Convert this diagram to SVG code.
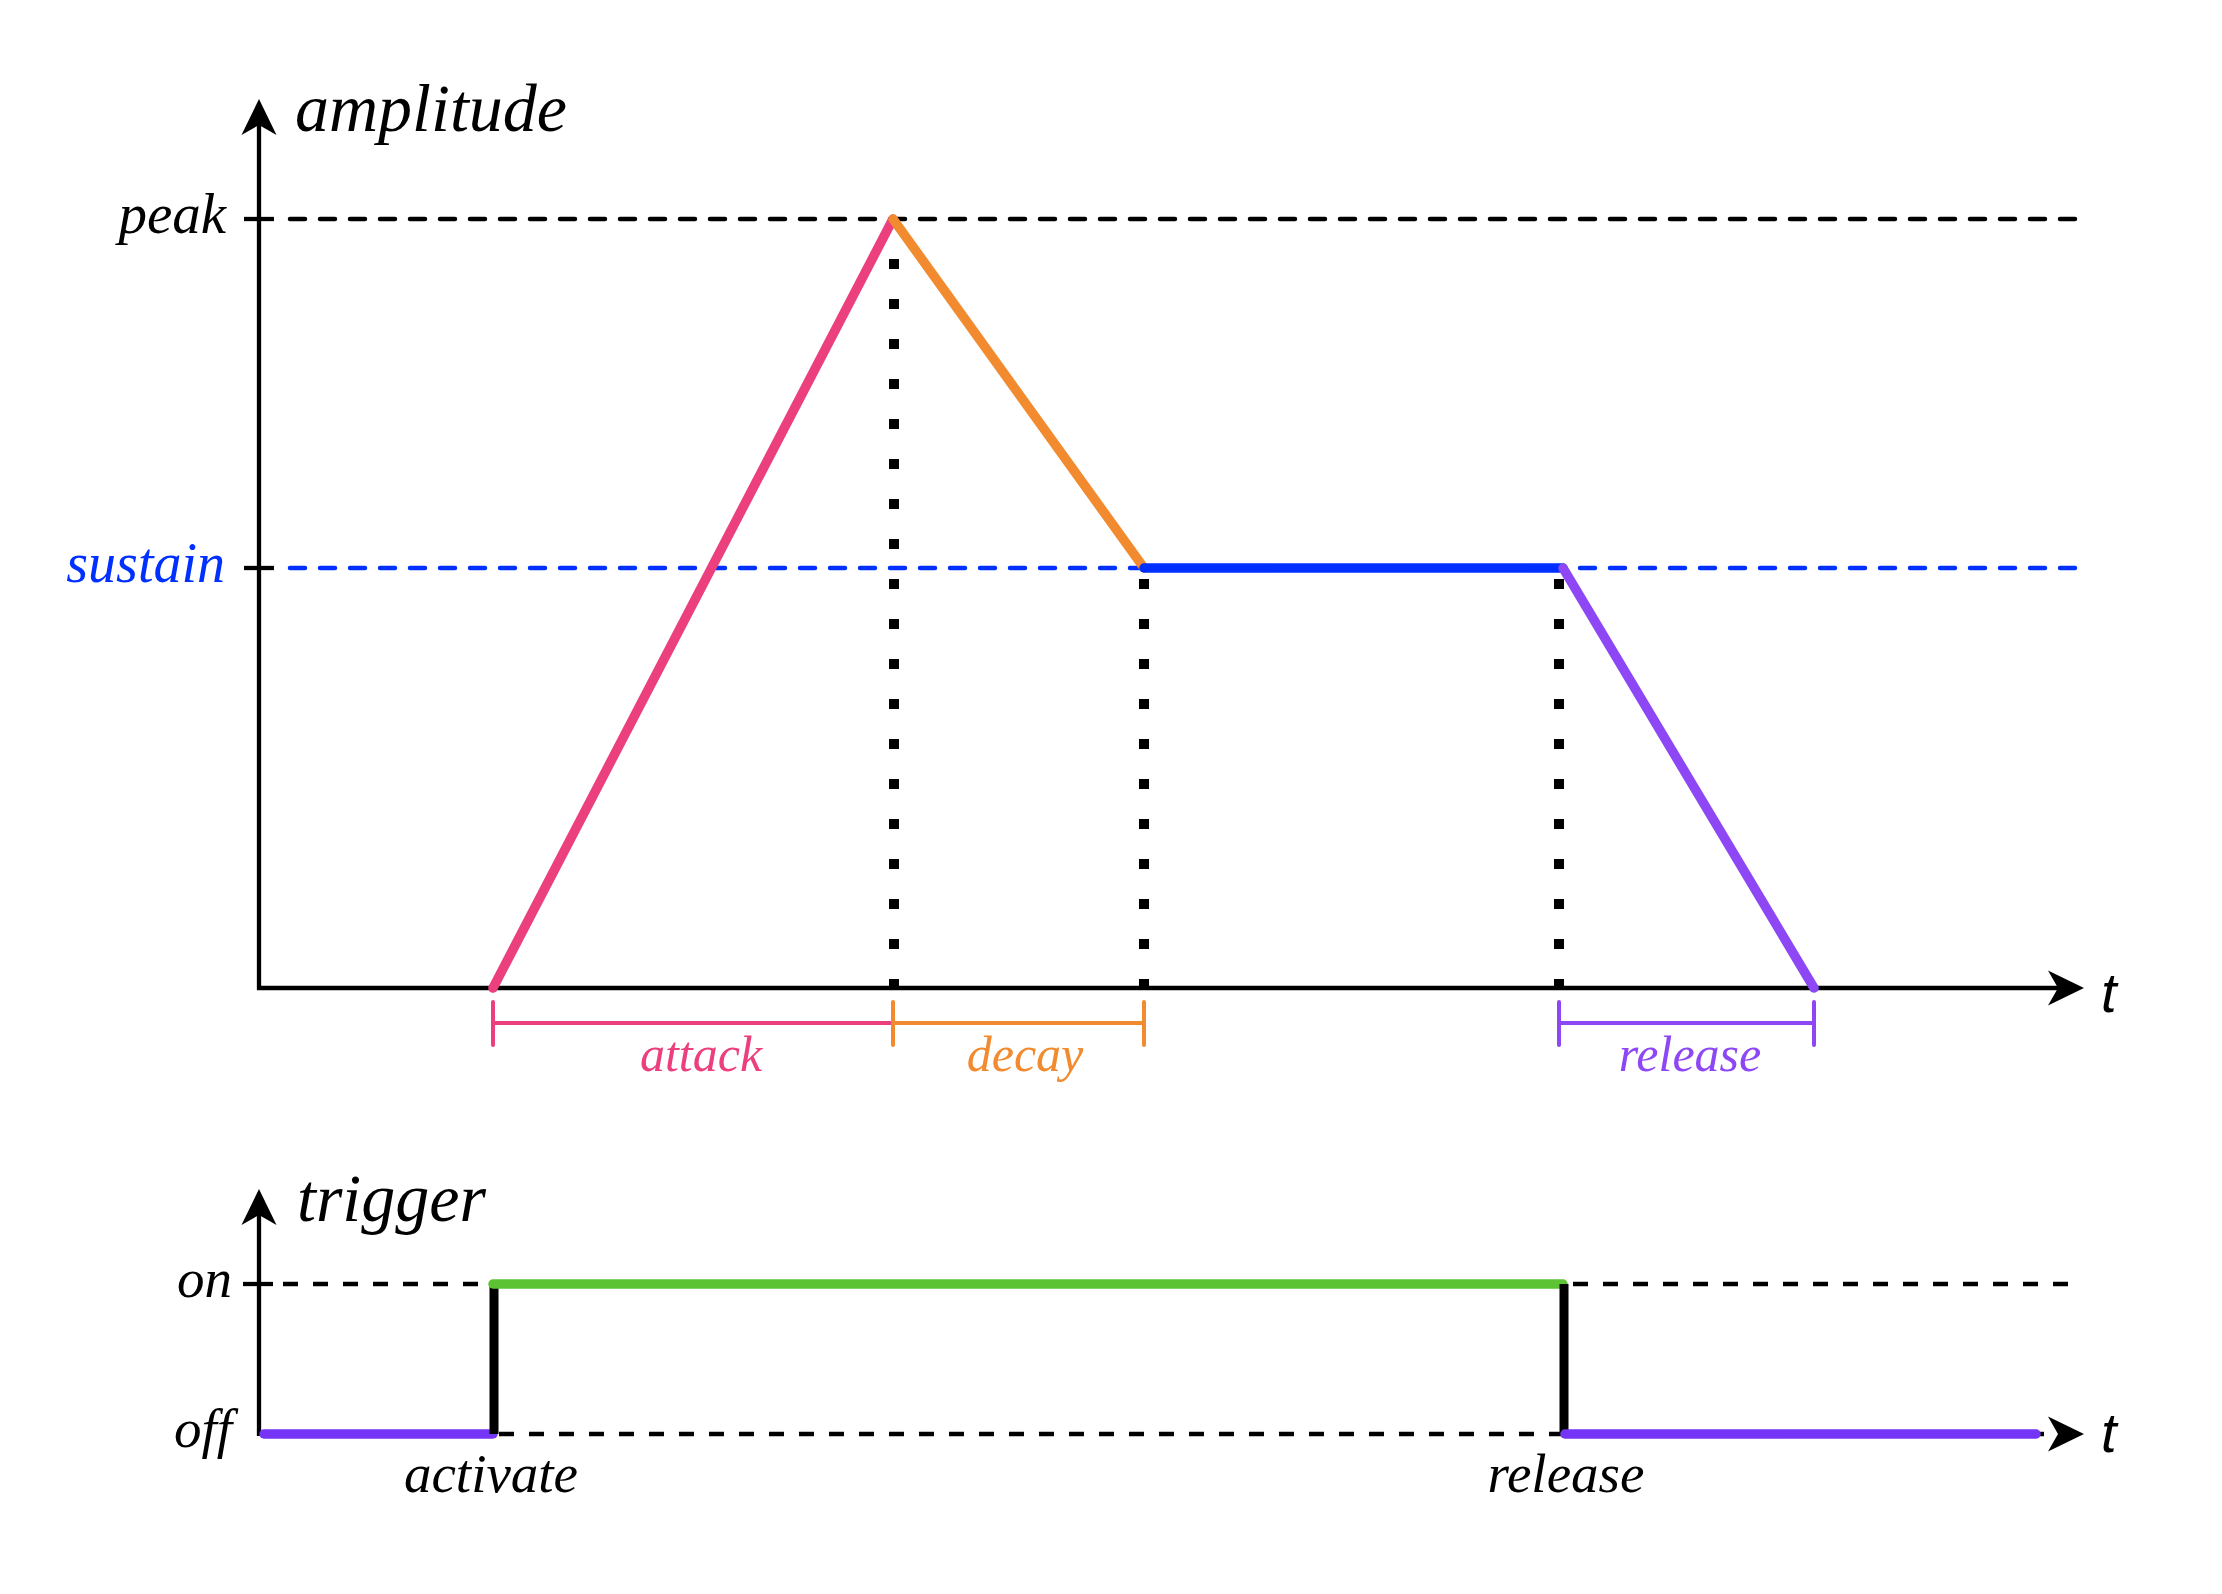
<svg xmlns="http://www.w3.org/2000/svg" width="2222" height="1594" viewBox="0 0 2222 1594">
<style>
.lbl{font-family:"Liberation Serif","DejaVu Serif",serif;font-style:italic;}
.t{font-family:"Liberation Sans","DejaVu Sans",sans-serif;font-style:italic;font-size:56px;}
.axis{fill:none;stroke:#000;stroke-width:4.3;}
.dash{fill:none;stroke-width:4.5;stroke-dasharray:15 15;stroke-linecap:round;}
.dashb{fill:none;stroke:#000;stroke-width:4.3;stroke-dasharray:15 15;}
.dot{fill:none;stroke:#000;stroke-width:10;stroke-dasharray:10 30;}
.seg{fill:none;stroke-width:9.5;stroke-linecap:round;stroke-linejoin:round;}
.br{fill:none;stroke-width:4;stroke-linecap:round;}
</style>
<defs>
<path id="ah" d="M0,0 L-36,-17.5 L-26,0 L-36,17.5 Z" fill="#000"/>
</defs>
<rect width="2222" height="1594" fill="#fff"/>

<g id="envelope-axes">
<path class="axis" d="M259,125 V988 H2062"/>
<use href="#ah" transform="translate(259,99) rotate(-90)"/>
<use href="#ah" transform="translate(2084,988)"/>
<line class="axis" x1="244" y1="219" x2="274" y2="219"/>
<line class="axis" x1="244" y1="568" x2="274" y2="568"/>
<text class="lbl" x="295" y="131" font-size="68">amplitude</text>
<text class="lbl" x="226" y="233" font-size="57" text-anchor="end">peak</text>
<text class="lbl" x="225" y="582" font-size="56" text-anchor="end" fill="#0030FF">sustain</text>
<text class="t" x="2101" y="1012">t</text>
</g>

<g id="guides">
<line class="dash" stroke="#000" x1="290" y1="219" x2="2075" y2="219"/>
<line class="dash" stroke="#0030FF" x1="290" y1="568" x2="2075" y2="568"/>
<line class="dot" x1="894" y1="259" x2="894" y2="989"/>
<line class="dot" x1="1144" y1="579" x2="1144" y2="989"/>
<line class="dot" x1="1559" y1="579" x2="1559" y2="989"/>
</g>

<g id="envelope">
<line id="attack-seg" class="seg" stroke="#EB3F7E" x1="493" y1="988" x2="893" y2="219"/>
<line id="decay-seg" class="seg" stroke="#F28B2F" x1="893" y1="219" x2="1144" y2="568"/>
<line id="sustain-seg" class="seg" stroke="#0030FF" x1="1144" y1="568" x2="1563" y2="568"/>
<line id="release-seg" class="seg" stroke="#8D47F5" x1="1563" y1="568" x2="1814" y2="988"/>
</g>

<g id="phase-brackets">
<g id="attack-bracket" stroke="#EB3F7E">
<path class="br" d="M493,1002 V1045 M493,1023 H893"/>
<text class="lbl" x="701" y="1071" font-size="50" text-anchor="middle" fill="#EB3F7E" stroke="none">attack</text>
</g>
<g id="decay-bracket" stroke="#F28B2F">
<path class="br" d="M893,1002 V1045 M893,1023 H1144 M1144,1002 V1045"/>
<text class="lbl" x="1025" y="1071" font-size="50" text-anchor="middle" fill="#F28B2F" stroke="none">decay</text>
</g>
<g id="release-bracket" stroke="#8D47F5">
<path class="br" d="M1559,1002 V1045 M1559,1023 H1814 M1814,1002 V1045"/>
<text class="lbl" x="1690" y="1071" font-size="50" text-anchor="middle" fill="#8D47F5" stroke="none">release</text>
</g>
</g>

<g id="trigger-axes">
<line class="axis" x1="259" y1="1215" x2="259" y2="1436"/>
<use href="#ah" transform="translate(259,1189) rotate(-90)"/>
<line class="axis" x1="243" y1="1284" x2="273" y2="1284"/>
<line class="dashb" x1="283" y1="1284" x2="2068" y2="1284"/>
<line class="dashb" x1="499" y1="1434" x2="2049" y2="1434"/>
<use href="#ah" transform="translate(2084,1434)"/>
<text class="lbl" x="297" y="1221" font-size="68">trigger</text>
<text class="lbl" x="232" y="1297" font-size="55" text-anchor="end">on</text>
<text class="lbl" x="232" y="1447" font-size="55" text-anchor="end">off</text>
<text class="t" x="2101" y="1452">t</text>
</g>

<g id="trigger-signal">
<line class="seg" stroke="#7535F7" x1="264" y1="1434" x2="493" y2="1434"/>
<line stroke="#000" stroke-width="9" x1="494" y1="1284" x2="494" y2="1434"/>
<line class="seg" stroke="#5CC433" x1="493" y1="1284" x2="1563" y2="1284"/>
<line stroke="#000" stroke-width="9" x1="1564" y1="1284" x2="1564" y2="1434"/>
<line class="seg" stroke="#7535F7" x1="1565" y1="1434" x2="2036" y2="1434"/>
<text class="lbl" x="491" y="1492" font-size="55" text-anchor="middle">activate</text>
<text class="lbl" x="1566" y="1492" font-size="55" text-anchor="middle">release</text>
</g>
</svg>
